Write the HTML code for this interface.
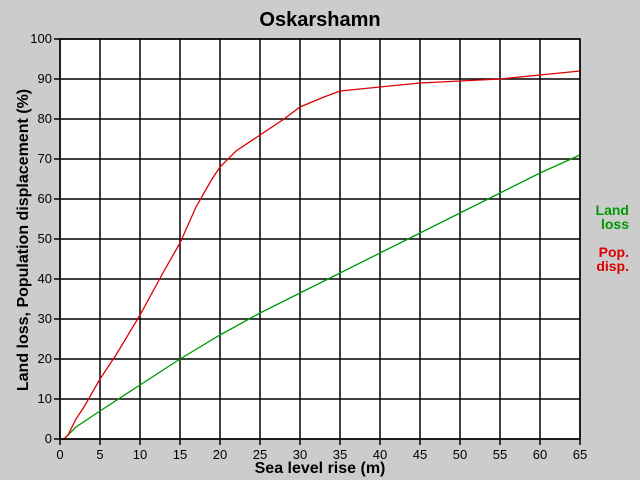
<!DOCTYPE html>
<html><head><meta charset="utf-8"><style>
body{margin:0;background:#cccccc;}
svg{display:block;font-family:"Liberation Sans",Arial,sans-serif;}
</style></head><body>
<svg id="chart" width="640" height="480">
<rect x="0" y="0" width="640" height="480" fill="#cccccc"/>
<text x="320" y="26" text-anchor="middle" font-size="20" font-weight="bold">Oskarshamn</text>
<rect x="60" y="39" width="520" height="400" fill="#ffffff"/>
<g id="grid"></g>
<g id="series"></g>
<rect x="60" y="39" width="520" height="400" fill="none" stroke="#000" stroke-width="1.5"/>
<text x="320" y="473" text-anchor="middle" font-size="16" font-weight="bold">Sea level rise (m)</text>
<text transform="translate(28,240) rotate(-90)" text-anchor="middle" font-size="16" font-weight="bold">Land loss, Population displacement (%)</text>
<text x="629" y="215" text-anchor="end" font-size="14" font-weight="bold" fill="#009900"><tspan x="629">Land</tspan><tspan x="629" dy="14">loss</tspan></text>
<text x="629" y="257" text-anchor="end" font-size="14" font-weight="bold" fill="#dd0000"><tspan x="629">Pop.</tspan><tspan x="629" dy="14">disp.</tspan></text>
</svg>
<script>
const xTicks=[0,5,10,15,20,25,30,35,40,45,50,55,60,65];
const yTicks=[0,10,20,30,40,50,60,70,80,90,100];
const popX=[0,0.5,1,2,3,5,7,10,13,15,17,19,20,22,25,28,30,33,35,40,45,50,55,60,65];
const popY=[0,0,1,5,8,15,21,31,42,49,58,65,68,72,76,80,83,85.5,87,88,89,89.5,90,91,92];
const landX=[0,0.5,1,2,5,10,15,20,25,30,35,40,45,50,55,60,65];
const landY=[0,0,1,3,7,13.5,20,26,31.5,36.5,41.5,46.5,51.5,56.5,61.5,66.5,71];
const NS='http://www.w3.org/2000/svg';
const xs=v=>60+v*8, ys=v=>439-v*4;
const grid=document.getElementById('grid');
const svg=document.getElementById('chart');
function mk(tag,attrs,parent){const e=document.createElementNS(NS,tag);for(const k in attrs)e.setAttribute(k,attrs[k]);parent.appendChild(e);return e;}
xTicks.forEach(t=>{
 const l=mk('line',{x1:xs(t),x2:xs(t),y1:39,y2:445,stroke:'#000','stroke-width':1.5},grid);
 
 
 const tx=mk('text',{x:xs(t),y:459,'text-anchor':'middle','font-size':13},svg);
 tx.textContent=t;
 
 
});
yTicks.forEach(t=>{
 const l=mk('line',{x1:54,x2:580,y1:ys(t),y2:ys(t),stroke:'#000','stroke-width':1.5},grid);
 
 
 const tx=mk('text',{x:52,y:ys(t)+4,'text-anchor':'end','font-size':13},svg);
 tx.textContent=t;
 
 
});
const ser=document.getElementById('series');
const land=mk('polyline',{points:landX.map((x,i)=>xs(x)+','+ys(landY[i])).join(' '),fill:'none',stroke:'#009900','stroke-width':1.3},ser);


const pop=mk('polyline',{points:popX.map((x,i)=>xs(x)+','+ys(popY[i])).join(' '),fill:'none',stroke:'#dd0000','stroke-width':1.3},ser);


</script>
</body></html>
